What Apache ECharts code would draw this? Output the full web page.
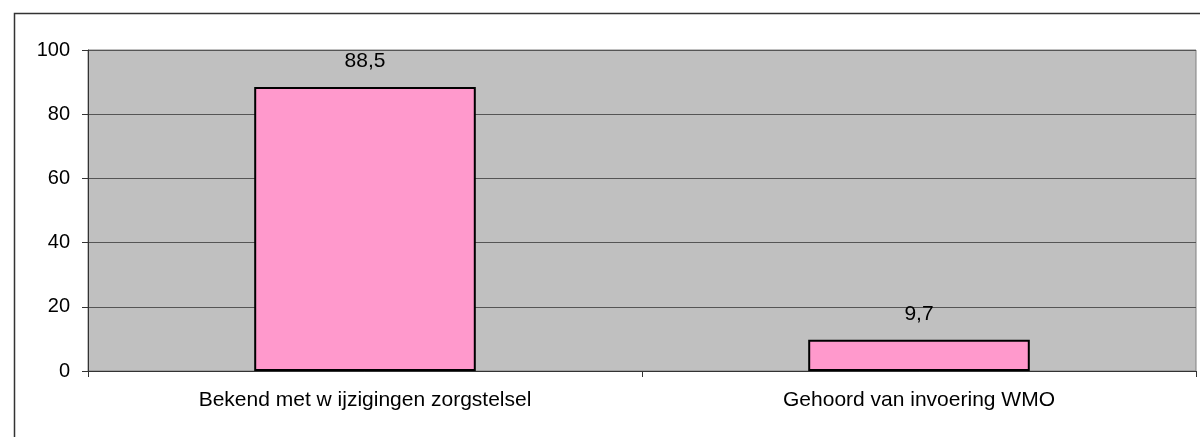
<!DOCTYPE html>
<html>
<head>
<meta charset="utf-8">
<script src="https://cdn.jsdelivr.net/npm/echarts@6/dist/echarts.min.js"></script>
<style>
  html, body { margin: 0; padding: 0; background: #fff; }
  #main { width: 1200px; height: 437px; }
</style>
</head>
<body>
<div id="main"></div>
<script>
// gegevens uit de grafiek
var categories = ['Bekend met w ijzigingen zorgstelsel', 'Gehoord van invoering WMO'];
var values = [88.5, 9.7];
var yTicks = { min: 0, max: 100, interval: 20 };

var myChart = echarts.init(document.getElementById('main'));

myChart.setOption({
    backgroundColor: '#ffffff',
    animation: false,
    textStyle: { fontFamily: 'Liberation Sans, Arial, sans-serif' },
    graphic: [{
        type: 'rect',
        left: 12, top: 11,
        shape: { width: 1300, height: 600 },
        style: { fill: 'none', stroke: '#333', lineWidth: 1.5 },
        z: -1
    }],
    grid: {
        left: 88, right: 4, top: 50, bottom: 66,
        show: true,
        backgroundColor: '#c0c0c0',
        borderColor: '#808080',
        borderWidth: 1
    },
    xAxis: {
        type: 'category',
        data: categories,
        axisLine: { lineStyle: { color: '#333', width: 1 } },
        axisTick: { show: true, length: 6, alignWithLabel: false, lineStyle: { color: '#333' } },
        axisLabel: { color: '#000', fontSize: 21, margin: 19 }
    },
    yAxis: {
        type: 'value',
        min: yTicks.min,
        max: yTicks.max,
        interval: yTicks.interval,
        axisLine: { show: true, lineStyle: { color: '#333', width: 1 } },
        axisTick: { show: true, length: 6, lineStyle: { color: '#333' } },
        axisLabel: { color: '#000', fontSize: 20, margin: 18 },
        splitLine: { lineStyle: { color: '#555', width: 1 } }
    },
    series: [{
        type: 'bar',
        data: values,
        barWidth: '40%',
        itemStyle: { color: '#ff99cc', borderColor: '#000', borderWidth: 2 },
        label: {
            show: true,
            position: 'top',
            distance: 15,
            color: '#000',
            fontSize: 21,
            formatter: function (p) { return String(p.value).replace('.', ','); }
        }
    }]
});
</script>
</body>
</html>
